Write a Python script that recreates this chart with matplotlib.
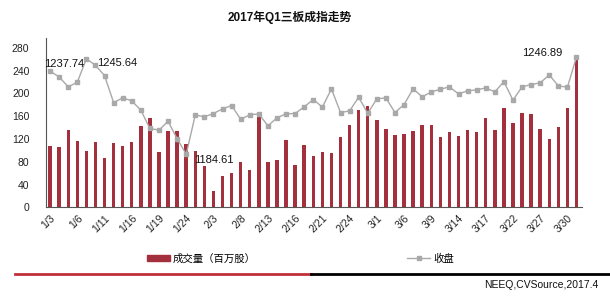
import numpy as np
import matplotlib
matplotlib.use('Agg')
import matplotlib.pyplot as plt
from matplotlib.lines import Line2D
from matplotlib.patches import Patch

plt.rcParams['font.family'] = ['Liberation Sans', 'Noto Sans CJK SC', 'DejaVu Sans']

# trading days of Q1 2017 (labels shown every 3rd day)
dates = ['1/3', '1/4', '1/5', '1/6', '1/9', '1/10', '1/11', '1/12', '1/13', '1/16',
         '1/17', '1/18', '1/19', '1/20', '1/23', '1/24', '1/25', '1/26',
         '2/3', '2/6', '2/7', '2/8', '2/9', '2/10', '2/13', '2/14', '2/15', '2/16',
         '2/17', '2/20', '2/21', '2/22', '2/23', '2/24', '2/27', '2/28',
         '3/1', '3/2', '3/3', '3/6', '3/7', '3/8', '3/9', '3/10', '3/13', '3/14',
         '3/15', '3/16', '3/17', '3/20', '3/21', '3/22', '3/23', '3/24', '3/27',
         '3/28', '3/29', '3/30', '3/31']

# 成交量（百万股）
volume = [108, 106, 136, 117, 99, 114, 86, 113, 107, 114,
          142, 156, 97, 134, 134, 111, 99, 72,
          29, 55, 60, 79, 65, 162, 79, 83, 118, 74,
          109, 90, 97, 95, 123, 144, 170, 177,
          153, 137, 127, 128, 134, 144, 144, 123, 132, 125,
          135, 132, 156, 136, 174, 148, 165, 163, 137,
          120, 141, 174, 258]

# 收盘
close = [1237.74, 1234.07, 1227.68, 1230.67, 1245.64, 1241.51, 1234.91, 1217.64, 1220.64, 1218.74,
         1212.75, 1201.04, 1199.98, 1205.71, 1194.43, 1184.61, 1209.76, 1208.48,
         1210.63, 1213.59, 1215.74, 1206.98, 1209.76, 1210.42, 1202.75, 1207.86, 1210.42, 1210.60,
         1214.91, 1219.58, 1214.70, 1226.40, 1211.26, 1212.31, 1221.07, 1210.74,
         1220.02, 1220.60, 1211.26, 1216.37, 1226.40, 1221.29, 1224.47, 1226.18, 1227.68, 1223.19,
         1225.13, 1225.75, 1227.02, 1224.47, 1231.07, 1219.14, 1227.68, 1229.18, 1230.24,
         1235.35, 1228.30, 1227.50, 1246.89]

# labelled points: (index, text, offset in points)
labels = [(0, '1237.74', (10, 5)), (4, '1245.64', (8, -3)),
          (15, '1184.61', (6, -4)), (58, '1246.89', (-10, 3))]

x = np.arange(len(dates))

fig = plt.figure(figsize=(6.1, 3.01), dpi=100)
ax = fig.add_axes([0.0754, 0.311, 0.8786, 0.5644])

bar_color = '#A3303C'
line_color = '#A9A9A9'

ax.bar(x, volume, width=0.38, color=bar_color, zorder=2)
ax.set_xlim(-0.45, 58.6)
ax.set_ylim(0, 298)
ax.set_yticks(np.arange(0, 281, 40))
ax.set_xticks(x[::3])
ax.set_xticklabels(dates[::3], rotation=45, ha='right', va='top', rotation_mode='anchor')
ax.tick_params(axis='y', length=0, pad=12, labelsize=7.5, colors='#222222')
ax.tick_params(axis='x', length=0, pad=4, labelsize=7.5, colors='#222222')
for s in ['top', 'right']:
    ax.spines[s].set_visible(False)
ax.spines['left'].set_color('#555555')
ax.spines['bottom'].set_color('#555555')
ax.spines['left'].set_linewidth(0.8)
ax.spines['bottom'].set_linewidth(0.8)

ax2 = ax.twinx()
ax2.plot(x, close, color=line_color, lw=1.0, marker='s', ms=2.8, zorder=3)
ax2.set_ylim(1150.52, 1259.29)
ax2.set_yticks([])
for s in ['top', 'right', 'left', 'bottom']:
    ax2.spines[s].set_visible(False)

for i, txt, off in labels:
    ha = 'right' if off[0] < 0 else 'left'
    if i == 0:
        ha = 'center'
    ax2.annotate(txt, (x[i], close[i]), xytext=off, textcoords='offset points',
                 ha=ha, va='center', fontsize=8, color='#111111')

fig.text(0.475, 0.942, '2017年Q1三板成指走势', ha='center', va='center',
         fontsize=8.5, fontweight='bold', color='#111111')

# legend
handles = [Patch(color=bar_color), Line2D([], [], color=line_color, marker='s', ms=2.5, lw=1)]
fig.legend([handles[0]], ['成交量（百万股）'], loc='center left', bbox_to_anchor=(0.225, 0.14),
           frameon=False, fontsize=7.5, handlelength=2.2, handleheight=0.5, handletextpad=0.3)
fig.legend([handles[1]], ['收盘'], loc='center left', bbox_to_anchor=(0.652, 0.14),
           frameon=False, fontsize=7.5, handlelength=2.2, handletextpad=0.3)

# divider line and source
fig.add_artist(Line2D([0.025, 0.51], [0.09, 0.09], color='#C0303A', lw=2))
fig.add_artist(Line2D([0.51, 1.0], [0.09, 0.09], color='#000000', lw=2))
fig.text(0.981, 0.053, 'NEEQ,CVSource,2017.4', ha='right', va='center', fontsize=7.5, color='#111111')

fig.savefig('out.png', dpi=100)
